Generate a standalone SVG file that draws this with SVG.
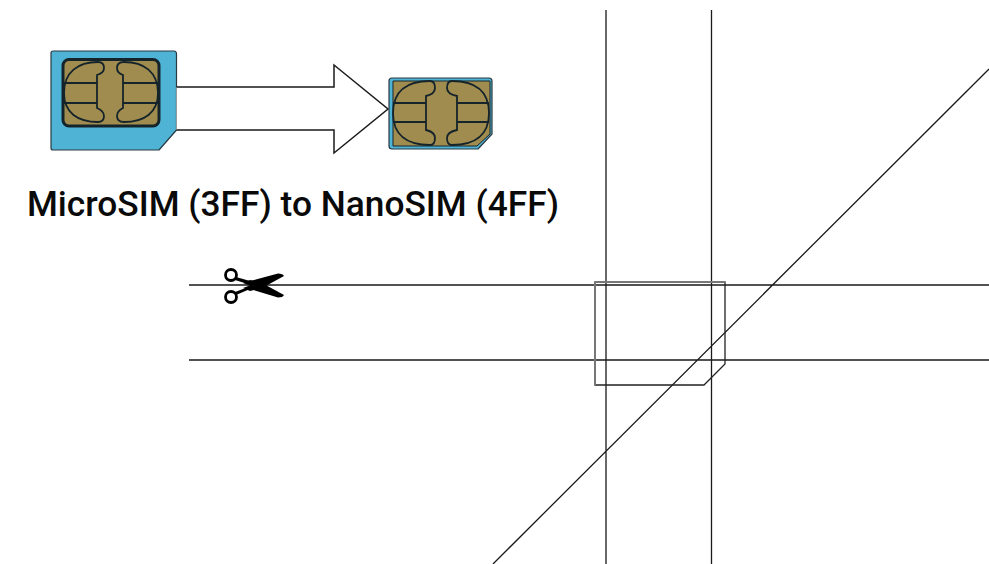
<svg xmlns="http://www.w3.org/2000/svg" width="989" height="564" viewBox="0 0 989 564">
<style>
.line{fill:none;stroke:#1a1a1a;stroke-width:1.3}
.card{fill:#4eb3d4;stroke:#2a3a42;stroke-width:1.2;stroke-linejoin:round}
.chip{fill:#a18c50;stroke:#14242a;stroke-linejoin:round}
.pad{fill:none;stroke:#14242a;stroke-width:1.8}
.label{font-family:"Roboto","Liberation Sans",sans-serif;font-size:35px;font-weight:500;fill:#0a0a0a}
.scis{fill:#000}
</style>
<rect width="989" height="564" fill="#fff"/>
<g id="connectors">
<path class="line" d="M606 10V564M711.500 10V564M189 285H989M189 360H989M989 69L493 564"/>
</g>
<g id="microsim">
<path class="card" d="M53 51H174Q176.500 51 176.500 54V130L159 150H53Q51 150 51 148V53Q51 51 53 51Z"/>
<rect class="chip" x="63" y="59.500" width="96" height="66.500" rx="6" stroke-width="3"/>
<path class="pad" d="M64 93C64 72 78 62 98 62Q104 62 104 68Q104 73 97 75V108Q104 111 104 116Q104 122 98 122C78 122 64 113 64 93ZM64 83H97M64 103H97M158 93C158 72 144 62 124 62Q117 62 117 68Q117 73 123 75V108Q117 111 117 116Q117 122 124 122C144 122 158 113 158 93ZM123 83H158M123 103H158"/>
</g>
<g id="arrow">
<path d="M176.500 87H334V65L388 109L334 153V130H176.500" fill="#fff" stroke="#1a1a1a" stroke-width="1.500" stroke-linejoin="miter"/>
</g>
<g id="nanosim">
<path class="card" d="M392 78H489Q492 78 492 81V134L478 149H392Q389 149 389 146V81Q389 78 392 78Z" stroke-width="1.500"/>
<path class="chip" stroke-width="1" d="M393 81H490V134L477 146H393Z"/>
<path class="pad" d="M393 113C393 91 407 81 430 81Q435 81 435 88Q435 94 426 96V130Q435 132 435 138Q435 145 430 145C407 145 393 135 393 113ZM393 103H426M393 122H426M489 113C489 91 475 81 452 81Q447 81 447 88Q447 94 457 96V130Q447 132 447 138Q447 145 452 145C475 145 489 135 489 113ZM457 103H489M457 122H489"/>
</g>
<g id="caption">
<text class="label" x="27" y="216" textLength="532" lengthAdjust="spacingAndGlyphs">MicroSIM (3FF) to NanoSIM (4FF)</text>
</g>
<g id="scissors">
<circle cx="231" cy="275" r="5.500" fill="none" stroke="#000" stroke-width="2.800"/>
<circle cx="231" cy="297" r="5.500" fill="none" stroke="#000" stroke-width="2.800"/>
<path class="scis" d="M236 277L250 281L278 273.500Q283 273.500 284 276L262 288L250 291L243 288L251 285L235 280Z"/>
<path class="scis" d="M236 295L250 289L278 297.500Q283 297.500 284 295L262 283L250 280L243 283L251 286L235 292Z"/>
</g>
<g id="sim-outline">
<path d="M595 282H725V364L704 385H595Z" fill="none" stroke="#222" stroke-width="1.300"/>
<path d="M595 282V385M595 282H725" fill="none" stroke="#777" stroke-width="2"/>
</g>
</svg>
